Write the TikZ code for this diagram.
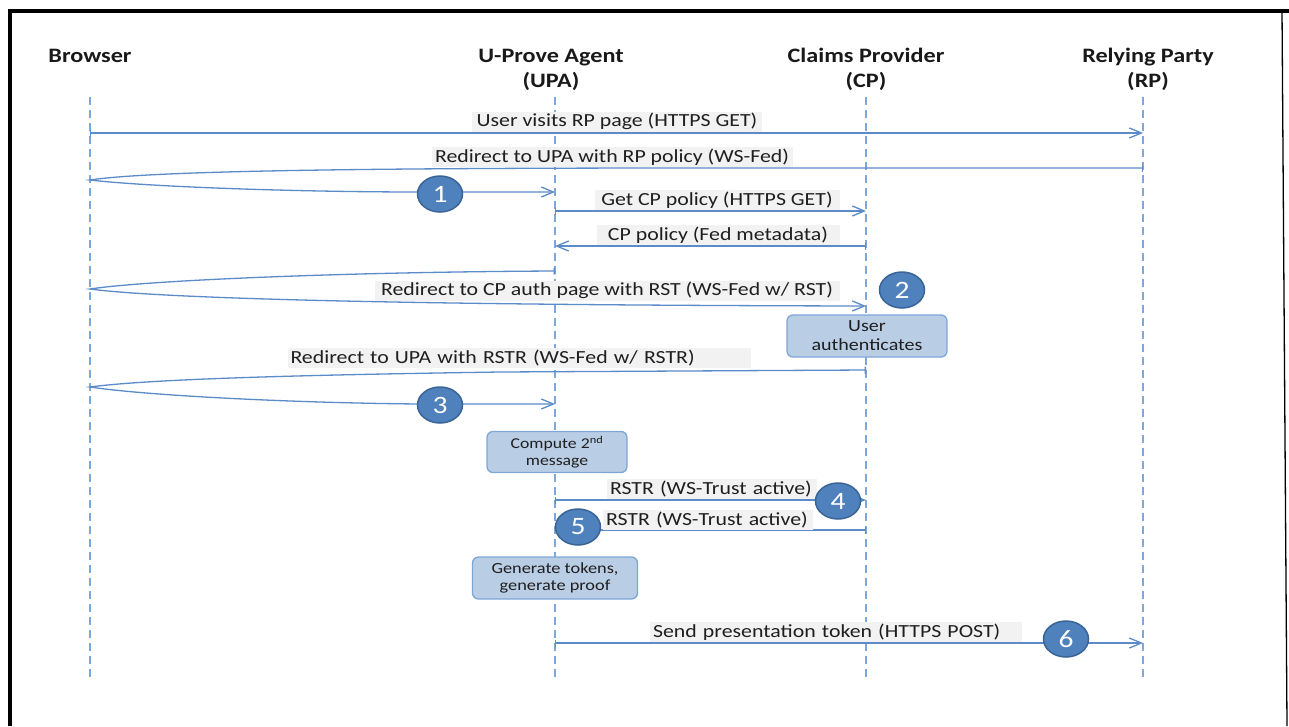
\documentclass[tikz,border=0pt]{standalone}
\usepackage{fontspec}
\setmainfont{Carlito}[FakeStretch=1.18]
\usetikzlibrary{arrows.meta,shapes.geometric}
\definecolor{msgc}{HTML}{5B8BC9}
\definecolor{lifec}{HTML}{7BA7DD}
\definecolor{lblc}{HTML}{F2F2F2}
\definecolor{txtc}{HTML}{1F1F1F}
\definecolor{circfill}{HTML}{4F81BD}
\definecolor{circdraw}{HTML}{3A6496}
\definecolor{boxfill}{HTML}{B9CDE5}
\definecolor{boxdraw}{HTML}{7EA6D8}
\begin{document}
\begin{tikzpicture}[x=1pt,y=-1pt,
 hdr/.style={font=\fontsize{20.5}{25}\selectfont\bfseries, text=black!90, align=center, inner sep=0pt, anchor=base},
 lifeline/.style={draw=lifec, line width=1.8pt, dash pattern=on 8pt off 5pt},
 msgline/.style={draw=msgc, line width=1.3pt, {Bar[width=7pt]}-{Straight Barb[length=12pt,width=10pt]}},
 msglbl/.style={fill=lblc, text=txtc, font=\fontsize{18.5}{20}\selectfont, inner sep=0pt, minimum height=20pt, anchor=south},
 msglblL/.style={msglbl, inner xsep=3pt, align=left},
 num/.style={ellipse, fill=circfill, draw=circdraw, line width=1.5pt, minimum width=45pt, minimum height=36pt, inner sep=0pt, text=white, font=\fontsize{25}{25}\selectfont},
 actbox/.style={rounded corners=6pt, fill=boxfill, draw=boxdraw, line width=1.3pt, text=txtc, align=center, inner sep=0pt},
]
\useasboundingbox (0,0) rectangle (1289,726);
% frame
\draw[line width=4pt] (9.5,726) -- (9.5,11.3) -- (1289,11.3);
\draw[line width=1.3pt] (1282,11.3) -- (1287,726);

% headers
\node[hdr] (hB) at (90,62) {Browser};
\node[hdr] (hU) at (551,87) {U-Prove Agent\\(UPA)};
\node[hdr] (hC) at (866,87) {Claims Provider\\(CP)};
\node[hdr] (hR) at (1148,87) {Relying Party\\(RP)};

% lifelines
\coordinate (Bt) at (90,97);   \coordinate (Bb) at (90,678);
\coordinate (Ut) at (555,97);  \coordinate (Ub) at (555,678);
\coordinate (Ct) at (866,97);  \coordinate (Cb) at (866,678);
\coordinate (Rt) at (1143,97); \coordinate (Rb) at (1143,678);
\draw[lifeline] (Bt) -- (Bb);
\draw[lifeline] (Ut) -- (Ub);
\draw[lifeline] (Ct) -- (Cb);
\draw[lifeline] (Rt) -- (Rb);

% activity boxes
\node[actbox, minimum width=160pt, minimum height=42pt, font=\fontsize{17}{19}\selectfont] (auth) at (867,336) {User\\authenticates};
\node[actbox, minimum width=140pt, minimum height=41pt, font=\fontsize{15}{17}\selectfont] (comp) at (557,452) {Compute 2\textsuperscript{nd}\\message};
\node[actbox, minimum width=165pt, minimum height=42pt, font=\fontsize{15.5}{16.5}\selectfont] (gen) at (555,578) {Generate tokens,\\generate proof};

% message endpoints
\coordinate (m1s) at (90,133);   \coordinate (m1e) at (1143,133);
\coordinate (m2s) at (1143,168); \coordinate (m2t) at (90,180); \coordinate (m2e) at (555,192);
\coordinate (m3s) at (555,211);  \coordinate (m3e) at (866,211);
\coordinate (m4s) at (866,246);  \coordinate (m4e) at (555,246);
\coordinate (m5s) at (555,271);  \coordinate (m5t) at (90,289); \coordinate (m5e) at (866,306);
\coordinate (m6s) at (866,370);  \coordinate (m6t) at (90,387); \coordinate (m6e) at (555,404);
\coordinate (m7s) at (555,500);  \coordinate (m7e) at (866,500);
\coordinate (m8s) at (866,530);  \coordinate (m8e) at (555,530);
\coordinate (m9s) at (555,643);  \coordinate (m9e) at (1143,643);

% messages
\draw[msgline] (m1s) -- (m1e);
\draw[msgline] (m2s) -- (700,168) .. controls (350,168) and (150,171) .. (m2t)
   .. controls (150,187) and (300,192) .. (420,192) -- (m2e);
\draw[msgline] (m3s) -- (m3e);
\draw[msgline] (m4s) -- (m4e);
\draw[msgline] (m5s) .. controls (350,272) and (150,280) .. (m5t)
   .. controls (150,297) and (350,305) .. (m5e);
\draw[msgline] (m6s) -- (500,372) .. controls (300,375) and (150,379) .. (m6t)
   .. controls (150,396) and (300,403) .. (420,404) -- (m6e);
\draw[msgline] (m7s) -- (m7e);
\draw[msgline] (m8s) -- (m8e);
\draw[msgline] (m9s) -- (m9e);

% labels
\node[msglbl, minimum width=290pt] (l1) at (617,132) {User visits RP page (HTTPS GET)};
\node[msglbl, minimum width=361pt] (l2) at (612,167) {Redirect to UPA with RP policy (WS-Fed)};
\node[msglbl, minimum width=245pt] (l3) at (717,210) {Get CP policy (HTTPS GET)};
\node[msglbl, minimum width=243pt] (l4) at (718,245) {CP policy (Fed metadata)};
\node[msglbl, minimum width=465pt] (l5) at (607,301) {Redirect to CP auth page with RST (WS-Fed w/ RST)};
\node[msglblL, text width=457pt] (l6) at (519,368) {Redirect to UPA with RSTR (WS-Fed w/ RSTR)};
\node[msglblL, text width=204pt] (l7) at (712,499) {RSTR (WS-Trust active)};
\node[msglblL, text width=204pt] (l8) at (708,530) {RSTR (WS-Trust active)};
\node[msglblL, text width=366pt] (l9) at (836,642) {Send presentation token (HTTPS POST)};

% step numbers
\node[num] (n1) at (440,194) {1};
\node[num] (n2) at (902,290) {2};
\node[num] (n3) at (440,405) {3};
\node[num] (n4) at (838,501) {4};
\node[num] (n5) at (578,527) {5};
\node[num] (n6) at (1066,639) {6};
\end{tikzpicture}
\end{document}
